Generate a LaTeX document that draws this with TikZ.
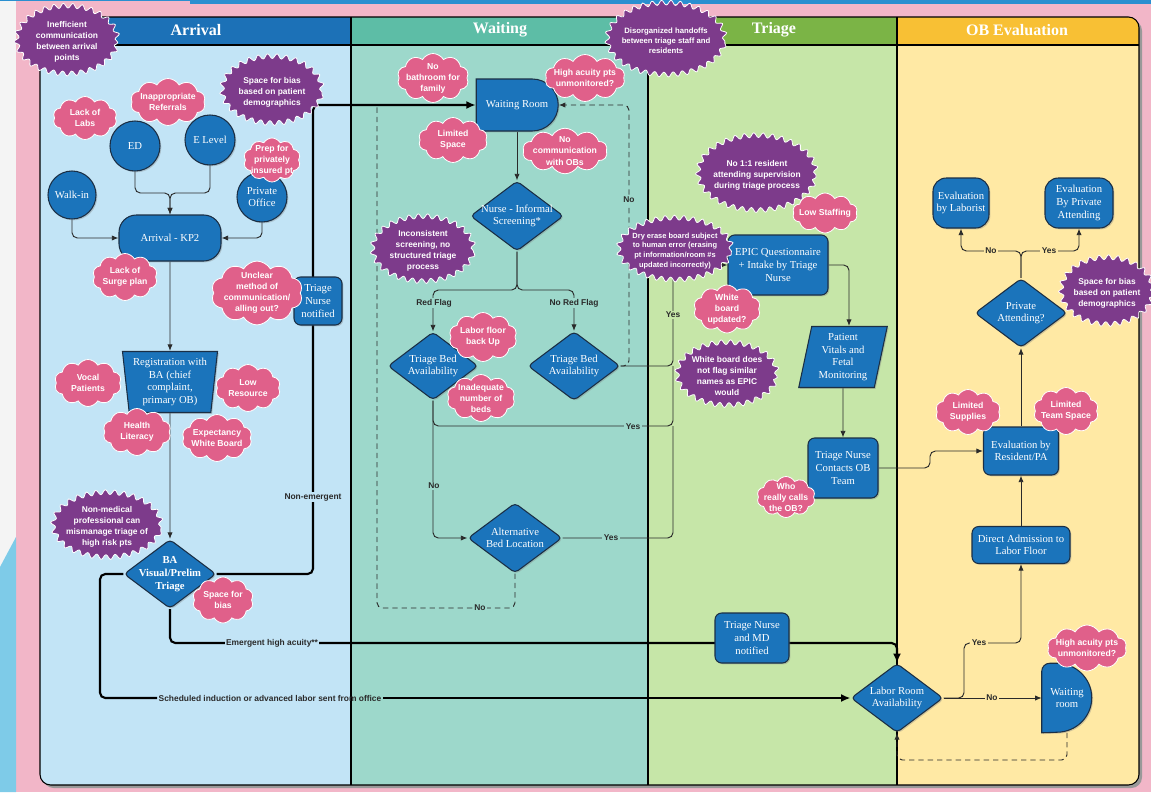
\documentclass[tikz,border=0pt]{standalone}
\usepackage{fontspec}
\setmainfont{Liberation Serif}
\setsansfont{Liberation Sans}
\usetikzlibrary{shapes.geometric,shapes.misc,shapes.symbols,arrows.meta,shadows,decorations.pathmorphing}

\definecolor{pagepink}{HTML}{F2B6C8}
\definecolor{stripgray}{HTML}{F4F4F4}
\definecolor{stripblue}{HTML}{7ECBE8}
\definecolor{topblue}{HTML}{2A8FD0}
\definecolor{arrhead}{HTML}{1C71B7}
\definecolor{arrbody}{HTML}{C2E4F6}
\definecolor{waithead}{HTML}{5DBDA6}
\definecolor{waitbody}{HTML}{9DD8CB}
\definecolor{trihead}{HTML}{7BB446}
\definecolor{tribody}{HTML}{C6E6A8}
\definecolor{obhead}{HTML}{F8C034}
\definecolor{obbody}{HTML}{FFE9A4}
\definecolor{stepblue}{HTML}{1B74BB}
\definecolor{stepedge}{HTML}{1B2F45}
\definecolor{issuepink}{HTML}{E0608A}
\definecolor{issuepurple}{HTML}{7D3B8B}
\definecolor{flowline}{HTML}{2A2A2A}

% one pixel of the original sketch
\newlength{\pxu}
\setlength{\pxu}{0.75pt}

\pgfdeclarelayer{lanes}
\pgfdeclarelayer{flows}
\pgfsetlayers{lanes,flows,main}

\tikzset{
  stepfill/.style={draw=stepedge, line width=0.8pt, fill=stepblue,
    drop shadow={opacity=0.35, shadow xshift=1pt, shadow yshift=-1pt}},
  stepbase/.style={stepfill, text=white, align=center,
    font=\fontsize{8}{9.5}\selectfont, inner sep=1pt},
  startpt/.style={stepbase, circle, minimum size=50\pxu},
  procbox/.style={stepbase, rectangle, rounded corners=5pt},
  decision/.style={stepbase, diamond, shape aspect=1.35, inner sep=-3pt, rounded corners=3pt,
    minimum width=92\pxu, minimum height=69\pxu},
  holdbox/.style={stepbase, rounded rectangle, rounded rectangle left arc=none, inner xsep=0pt},
  issue/.style={cloud, cloud puffs=10, cloud puff arc=120, cloud ignores aspect, fill=issuepink,
    draw=white, line width=0.6pt, text=white, align=center, inner sep=-2pt,
    font=\sffamily\bfseries\fontsize{6.5}{8.3}\selectfont},
  gap/.style={ellipse, fill=issuepurple, draw=white, line width=0.6pt,
    decorate, decoration={snake, amplitude=1.8pt, segment length=7pt}, text=white, align=center,
    inner sep=-2pt, font=\sffamily\bfseries\fontsize{6.3}{8.3}\selectfont},
  flow/.style={draw=flowline, line width=0.7pt, rounded corners=4pt, -{Latex[length=5pt,width=4pt]}},
  mainflow/.style={flow, draw=black, line width=1.6pt, -{Latex[length=7pt,width=6pt]}},
  loopback/.style={flow, dash pattern=on 4pt off 3pt},
  lbl/.style={font=\sffamily\bfseries\fontsize{6.3}{7}\selectfont, text=flowline, inner sep=1pt},
  lanetitle/.style={text=white, font=\bfseries\fontsize{12}{14}\selectfont},
}

\begin{document}
\begin{tikzpicture}[x=0.75pt,y=-0.75pt]
\useasboundingbox (0,0) rectangle (1151,792);

% page and swim lanes
\begin{pgfonlayer}{lanes}
\fill[pagepink] (0,0) rectangle (1151,792);
\fill[stripgray] (0,0) rectangle (16,792);
\fill[stripblue] (0,567) -- (16,537) -- (16,792) -- (0,792) -- cycle;
\fill[topblue] (0,0) rectangle (1151,1.5);
\fill[topblue] (190,0) rectangle (1151,4);
\fill[black!40, rounded corners=8pt] (43,20) rectangle (1142,788);
\begin{scope}
\clip[rounded corners=8pt] (40,17) rectangle (1139,785);
\fill[arrbody] (40,17) rectangle (351,785);
\fill[waitbody] (351,17) rectangle (648,785);
\fill[tribody] (648,17) rectangle (897,785);
\fill[obbody] (897,17) rectangle (1139,785);
\fill[arrhead] (40,17) rectangle (351,45);
\fill[waithead] (351,17) rectangle (648,45);
\fill[trihead] (648,17) rectangle (897,45);
\fill[obhead] (897,17) rectangle (1139,45);
\end{scope}
\draw[line width=0.8pt, rounded corners=8pt] (40,17) rectangle (1139,785);
\draw[line width=0.8pt] (40,45) -- (1139,45);
\foreach \lx in {351,648,897} {
  \draw[line width=0.8pt] (\lx,17) -- (\lx,785);
}
\end{pgfonlayer}

\node[lanetitle] (tArrival) at (196,30) {Arrival};
\node[lanetitle] (tWaiting) at (500,30) {Waiting};
\node[lanetitle] (tTriage) at (774,30) {Triage};
\node[lanetitle] (tOB) at (1017,30) {OB Evaluation};

% arrival lane
\node[startpt] (ed) at (135,146) {ED};
\node[startpt] (elevel) at (210,140) {E Level};
\node[startpt, minimum size=48\pxu] (walkin) at (72,195) {Walk-in};
\node[startpt] (office) at (262,197) {Private\\Office};
\node[procbox, rounded corners=13pt, minimum width=102\pxu, minimum height=46\pxu] (kp2) at (170,238) {Arrival - KP2};
\node[stepbase, trapezium, trapezium left angle=98, trapezium right angle=98, trapezium stretches body,
  minimum width=95\pxu, minimum height=61\pxu, inner sep=0pt] (reg) at (170,382)
  {Registration with\\BA (chief\\complaint,\\primary OB)};
\node[procbox, minimum width=48\pxu, minimum height=48\pxu, inner sep=0pt] (tnote) at (318,301) {Triage\\Nurse\\notified};
\node[decision, font=\bfseries\fontsize{8}{9.5}\selectfont] (ba) at (170,574) {BA\\Visual/Prelim\\Triage};

% waiting lane
\node[holdbox, minimum width=82\pxu, minimum height=52\pxu] (wroom) at (517,105) {Waiting Room};
\node[decision, minimum width=93\pxu, minimum height=70\pxu] (screen) at (517,216) {Nurse - Informal\\Screening*};
\node[decision, minimum width=90\pxu, minimum height=68\pxu] (bedred) at (433,366) {Triage Bed\\Availability};
\node[decision] (bedok) at (574,366) {Triage Bed\\Availability};
\node[decision, minimum width=94\pxu, minimum height=70\pxu] (altbed) at (515,538) {Alternative\\Bed Location};

% triage lane
\node[procbox, minimum width=100\pxu, minimum height=60\pxu] (epic) at (778,265) {EPIC Questionnaire\\+ Intake by Triage\\Nurse};
\node[stepbase, trapezium, trapezium left angle=78, trapezium right angle=102, minimum width=74\pxu,
  minimum height=61\pxu, inner sep=0pt] (vitals) at (843,357) {Patient\\Vitals and\\Fetal\\Monitoring};
\node[procbox, minimum width=70\pxu, minimum height=60\pxu] (callob) at (843,468) {Triage Nurse\\Contacts OB\\Team};
\node[procbox, minimum width=74\pxu, minimum height=50\pxu] (tnmd) at (752,638) {Triage Nurse\\and MD\\notified};

% OB evaluation lane
\node[procbox, rounded corners=10pt, minimum width=56\pxu, minimum height=50\pxu] (laborist) at (961,203) {Evaluation\\by Laborist};
\node[procbox, rounded corners=10pt, minimum width=68\pxu, minimum height=50\pxu] (privatt) at (1079,203) {Evaluation\\By Private\\Attending};
\node[decision] (askpriv) at (1021,313) {Private\\Attending?};
\node[procbox, minimum width=75\pxu, minimum height=48\pxu] (resident) at (1021,451) {Evaluation by\\Resident/PA};
\node[procbox, minimum width=98\pxu, minimum height=37\pxu] (direct) at (1021,545) {Direct Admission to\\Labor Floor};
\node[decision] (laborroom) at (897,698) {Labor Room\\Availability};
\node[text=white, align=center, font=\fontsize{8}{9.5}\selectfont, minimum width=50\pxu,
  minimum height=69\pxu, inner sep=0pt] (obwait) at (1067,698) {Waiting\\room};

% labels on the flows
\node[lbl, fill=arrbody] (lNonEm) at (313,497) {Non-emergent};
\node[lbl, fill=arrbody] (lEmerg) at (272,643) {Emergent high acuity**};
\node[lbl] (lSched) at (270,698) {Scheduled induction or advanced labor sent from office};
\node[lbl, fill=waitbody] (lRed) at (434,303) {Red Flag};
\node[lbl, fill=waitbody] (lNoRed) at (574,303) {No Red Flag};
\node[lbl, fill=waitbody] (lNoBack) at (629,200) {No};
\node[lbl, fill=tribody] (lYesEpic) at (673,315) {Yes};
\node[lbl, fill=waitbody] (lYesRed) at (633,427) {Yes};
\node[lbl, fill=waitbody] (lNoAlt) at (434,486) {No};
\node[lbl, fill=waitbody] (lYesAlt) at (611,538) {Yes};
\node[lbl, fill=waitbody] (lNoLoop) at (480,608) {No};
\node[lbl, fill=obbody] (lNoLab) at (991,251) {No};
\node[lbl, fill=obbody] (lYesPriv) at (1049,251) {Yes};
\node[lbl, fill=obbody] (lYesDirect) at (979,643) {Yes};
\node[lbl, fill=obbody] (lNoWait) at (992,698) {No};

% connectors
\begin{pgfonlayer}{flows}
% delay shape behind the OB waiting room text
\path[stepfill] (obwait.south west) [rounded corners=6pt] -- (obwait.north west) [sharp corners]
  -- ++(15,0) arc[start angle=-90, end angle=90, x radius=35, y radius=34.5] -- cycle;
\draw[flow] (ed.south) |- (170,193) -- (kp2.north);
\draw[flow] (elevel.south) |- (170,193) -- (kp2.north);
\draw[flow] (walkin.south) |- (kp2.west);
\draw[flow] (office.south) |- (kp2.east);
\draw[flow] (kp2.south) -- (reg.north);
\draw[flow] (reg.south) -- (ba.north);
\draw[mainflow] (ba.east) -| (313,105) -- (wroom.west);
\draw[mainflow, -] (ba.west) -| (100,698) -- (lSched.west);
\draw[mainflow] (lSched.east) -- (laborroom.west);
\draw[mainflow] (ba.south) |- (897,643) -- (laborroom.north);
\draw[flow] (wroom.south) -- (screen.north);
\draw[flow] (screen.south) |- (433,290) -- (bedred.north);
\draw[flow] (screen.south) |- (574,290) -- (bedok.north);
\draw[loopback] (bedok.east) -| (629,105) -- (wroom.east);
\draw[flow] (bedok.east) -| (673,265) -- (epic.west);
\draw[flow, -] (bedred.south) |- (673,426) -- (673,366);
\draw[flow] (bedred.south) |- (altbed.west);
\draw[flow, -] (altbed.east) -| (673,426);
\draw[loopback, -] (altbed.south) |- (377,608) -- (377,106);
\draw[flow] (epic.east) -| (849,326);
\draw[flow] (vitals.south) -- (callob.north);
\draw[flow] (callob.east) -| (930,451) -- (resident.west);
\draw[flow] (resident.north) -- (askpriv.south);
\draw[flow] (askpriv.north) |- (961,251) -- (laborist.south);
\draw[flow] (askpriv.north) |- (1079,251) -- (privatt.south);
\draw[flow] (direct.north) -- (resident.south);
\draw[flow] (laborroom.east) -| (964,643) -| (direct.south);
\draw[flow] (laborroom.east) -- (obwait.west);
\draw[loopback] (obwait.south) |- (897,760) -- (laborroom.south);
\end{pgfonlayer}

% purple gaps
\node[gap, minimum width=101\pxu, minimum height=68\pxu] (gArrive) at (67,42) {Inefficient\\communication\\between arrival\\points};
\node[gap, minimum width=100\pxu, minimum height=67\pxu] (gBiasA) at (272,92) {Space for bias\\based on patient\\demographics};
\node[gap, minimum width=117\pxu, minimum height=72\pxu, font=\sffamily\bfseries\fontsize{5.8}{7.6}\selectfont] (gHandoff) at (666,41) {Disorganized handoffs\\between triage staff and\\residents};
\node[gap, minimum width=101\pxu, minimum height=65\pxu] (gScreen) at (423,251) {Inconsistent\\screening, no\\structured triage\\process};
\node[gap, minimum width=100\pxu, minimum height=62\pxu, font=\sffamily\bfseries\fontsize{5.6}{7.4}\selectfont] (gErase) at (675,251) {Dry erase board subject\\to human error (erasing\\pt information/room \#s\\updated incorrectly)};
\node[gap, minimum width=100\pxu, minimum height=63\pxu] (gFlag) at (727,376) {White board does\\not flag similar\\names as EPIC\\would};
\node[gap, minimum width=118\pxu, minimum height=75\pxu] (gSuperv) at (757,175) {No 1:1 resident\\attending supervision\\during triage process};
\node[gap, minimum width=102\pxu, minimum height=65\pxu] (gNonmed) at (107,527) {Non-medical\\professional can\\mismanage triage of\\high risk pts};
\node[gap, minimum width=92\pxu, minimum height=67\pxu] (gBiasB) at (1107,293) {Space for bias\\based on patient\\demographics};

% pink issue clouds
\node[issue, minimum width=64\pxu, minimum height=43\pxu] (cLabs) at (85,118) {Lack of\\Labs};
\node[issue, minimum width=75\pxu, minimum height=47\pxu] (cRefer) at (168,102) {Inappropriate\\Referrals};
\node[issue, minimum width=57\pxu, minimum height=44\pxu] (cPrep) at (272,160) {Prep for\\privately\\insured pt};
\node[issue, minimum width=65\pxu, minimum height=47\pxu] (cSurge) at (125,277) {Lack of\\Surge plan};
\node[issue, minimum width=83\pxu, minimum height=53\pxu] (cUnclear) at (257,293) {Unclear\\method of\\communication/\\alling out?};
\node[issue, minimum width=67\pxu, minimum height=47\pxu] (cVocal) at (88,383) {Vocal\\Patients};
\node[issue, minimum width=65\pxu, minimum height=47\pxu] (cLowres) at (248,388) {Low\\Resource};
\node[issue, minimum width=68\pxu, minimum height=47\pxu] (cHealth) at (137,432) {Health\\Literacy};
\node[issue, minimum width=70\pxu, minimum height=47\pxu] (cExpect) at (217,438) {Expectancy\\White Board};
\node[issue, minimum width=61\pxu, minimum height=46\pxu] (cBias) at (223,600) {Space for\\bias};
\node[issue, minimum width=67\pxu, minimum height=49\pxu] (cBath) at (433,78) {No\\bathroom for\\family};
\node[issue, minimum width=80\pxu, minimum height=47\pxu] (cAcuity) at (585,78) {High acuity pts\\unmonitored?};
\node[issue, minimum width=69\pxu, minimum height=45\pxu] (cSpace) at (453,140) {Limited\\Space};
\node[issue, minimum width=78\pxu, minimum height=43\pxu] (cNoComm) at (565,151) {No\\communication\\with OBs};
\node[issue, minimum width=68\pxu, minimum height=49\pxu] (cBackup) at (483,337) {Labor floor\\back Up};
\node[issue, minimum width=68\pxu, minimum height=47\pxu] (cBeds) at (481,398) {Inadequate\\number of\\beds};
\node[issue, minimum width=65\pxu, minimum height=40\pxu] (cStaff) at (825,213) {Low Staffing};
\node[issue, minimum width=67\pxu, minimum height=48\pxu] (cBoard) at (727,309) {White\\board\\updated?};
\node[issue, minimum width=58\pxu, minimum height=41\pxu] (cWho) at (786,497) {Who\\really calls\\the OB?};
\node[issue, minimum width=65\pxu, minimum height=45\pxu] (cSupply) at (968,412) {Limited\\Supplies};
\node[issue, minimum width=65\pxu, minimum height=47\pxu] (cTeam) at (1066,411) {Limited\\Team Space};
\node[issue, minimum width=78\pxu, minimum height=46\pxu] (cAcuity2) at (1087,648) {High acuity pts\\unmonitored?};
\end{tikzpicture}
\end{document}
